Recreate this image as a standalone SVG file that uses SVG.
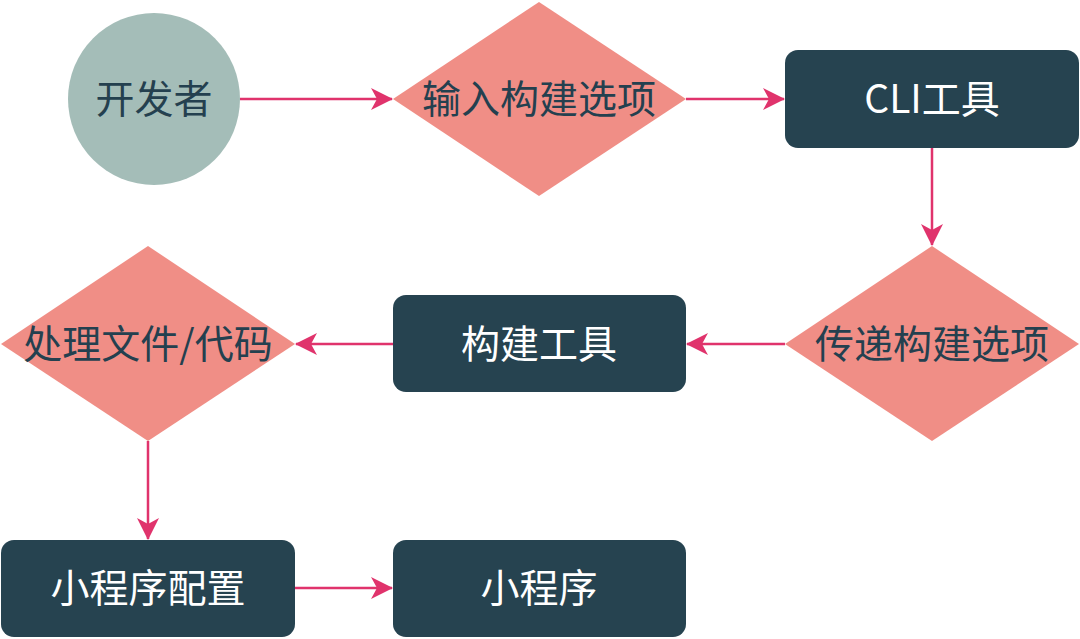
<svg xmlns="http://www.w3.org/2000/svg" width="1080" height="639" viewBox="0 0 1080 639">
<style>
.t{font-family:"Noto Sans CJK SC","Noto Sans",sans-serif;font-size:39px;text-anchor:middle;dominant-baseline:central}
.dk{fill:#24404f}
.wt{fill:#ffffff}
.dia{fill:#f08e86}
.box{fill:#264350}
.edge{stroke:#e0336c;stroke-width:2.5;fill:none}
</style>
<defs>
<marker id="ah" viewBox="0 0 22 22" refX="21" refY="11" markerWidth="22" markerHeight="22" markerUnits="userSpaceOnUse" orient="auto">
<path d="M0,0 L22,11 L0,22 L6,11 Z" fill="#e0336c"/>
</marker>
</defs>
<rect width="1080" height="639" fill="#ffffff"/>
<g id="connectors">
<line class="edge" x1="240" y1="99" x2="392" y2="99" marker-end="url(#ah)"/>
<line class="edge" x1="686" y1="99" x2="784" y2="99" marker-end="url(#ah)"/>
<line class="edge" x1="932" y1="148" x2="932" y2="245" marker-end="url(#ah)"/>
<line class="edge" x1="785" y1="344" x2="687" y2="344" marker-end="url(#ah)"/>
<line class="edge" x1="393" y1="344" x2="296" y2="344" marker-end="url(#ah)"/>
<line class="edge" x1="148" y1="441" x2="148" y2="539" marker-end="url(#ah)"/>
<line class="edge" x1="295" y1="588" x2="392" y2="588" marker-end="url(#ah)"/>
</g>
<g id="dev">
<circle cx="154" cy="99" r="86" fill="#a4bdb8"/>
<text class="t dk" x="154" y="96">开发者</text>
</g>
<g id="input">
<polygon class="dia" points="539,2 686,99 539,196 393,99"/>
<text class="t dk" x="539" y="96">输入构建选项</text>
</g>
<g id="cli">
<rect class="box" x="785" y="50" width="294" height="98" rx="13"/>
<text class="t wt" x="932" y="96">CLI工具</text>
</g>
<g id="pass">
<polygon class="dia" points="932,246 1079,344 932,441 785,344"/>
<text class="t dk" x="932" y="341">传递构建选项</text>
</g>
<g id="build">
<rect class="box" x="393" y="295" width="293" height="97" rx="13"/>
<text class="t wt" x="539" y="341">构建工具</text>
</g>
<g id="process">
<polygon class="dia" points="148,246 295,344 148,441 1,344"/>
<text class="t dk" x="148" y="341">处理文件/代码</text>
</g>
<g id="config">
<rect class="box" x="1" y="540" width="294" height="97" rx="13"/>
<text class="t wt" x="148" y="585">小程序配置</text>
</g>
<g id="app">
<rect class="box" x="393" y="540" width="293" height="97" rx="13"/>
<text class="t wt" x="539" y="585">小程序</text>
</g>
</svg>
